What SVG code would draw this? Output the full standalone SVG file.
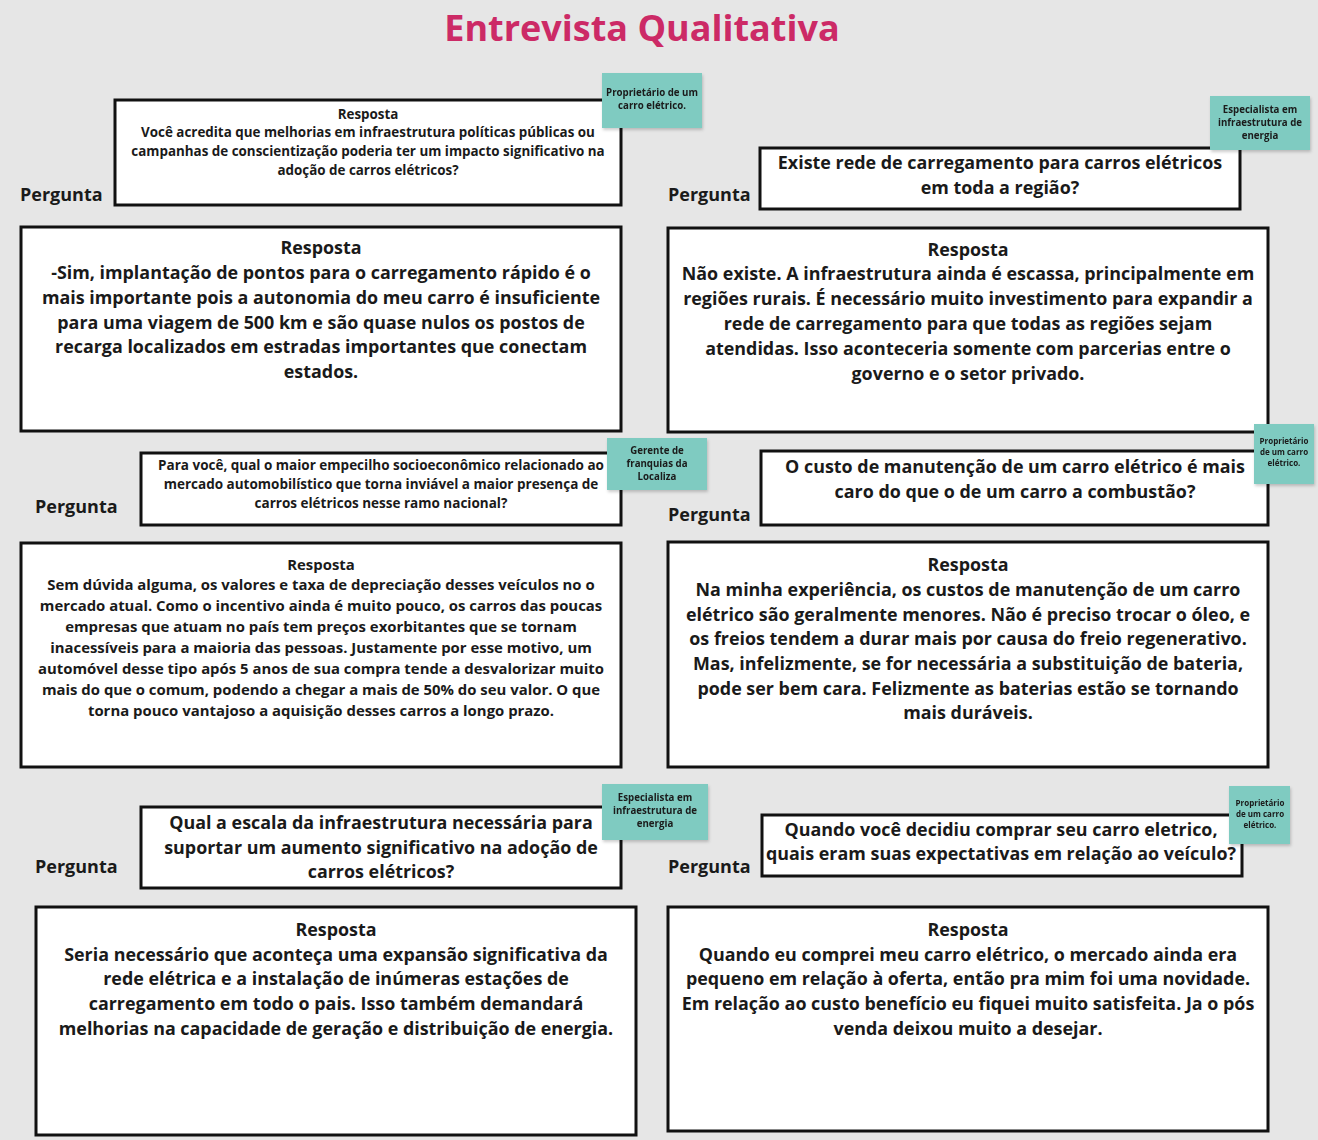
<svg xmlns="http://www.w3.org/2000/svg" width="1318" height="1140" viewBox="0 0 1318 1140">
<defs>
<style>
text{font-family:"Open Sans","Noto Sans","Liberation Sans",sans-serif;font-weight:700;fill:#1a1a1a}
.box{fill:#fff;stroke:#111;stroke-width:3}
.sticky{fill:#7fcbc1}
.lbl{font-size:18px}
.t18{font-size:17.9px;text-anchor:middle}
.t13{font-size:13.4px;text-anchor:middle}
.t13b{font-size:13.5px;text-anchor:middle}
.t14{font-size:14.9px;text-anchor:middle}
.s9{font-size:9.7px;text-anchor:middle}
.s7{font-size:8px;text-anchor:middle}
.title{font-size:36px;fill:#cc2a66;text-anchor:middle}
</style>
<filter id="sh" x="-10%" y="-10%" width="130%" height="130%"><feDropShadow dx="1" dy="2" stdDeviation="1.5" flood-color="#000" flood-opacity="0.2"/></filter>
</defs>
<rect width="1318" height="1140" fill="#e6e6e6"/>
<text class="title" x="642" y="41">Entrevista Qualitativa</text>
<g id="connectors"></g>

<g id="q1">
<text class="lbl" x="20" y="201">Pergunta</text>
<rect class="box" x="115" y="100" width="506" height="105"/>
<text class="t13" x="368" y="119">Resposta</text>
<text class="t13" x="368" y="137">Você acredita que melhorias em infraestrutura políticas públicas ou</text>
<text class="t13" x="368" y="156">campanhas de conscientização poderia ter um impacto significativo na</text>
<text class="t13" x="368" y="175">adoção de carros elétricos?</text>
</g>
<g id="n1" filter="url(#sh)">
<rect class="sticky" x="602" y="73" width="100" height="55"/>
<text class="s9" x="652" y="96">Proprietário de um</text>
<text class="s9" x="652" y="109">carro elétrico.</text>
</g>
<g id="a1">
<rect class="box" x="21" y="227" width="600" height="204"/>
<text class="t18" x="321" y="254">Resposta</text>
<text class="t18" x="321" y="279">-Sim, implantação de pontos para o carregamento rápido é o</text>
<text class="t18" x="321" y="304">mais importante pois a autonomia do meu carro é insuficiente</text>
<text class="t18" x="321" y="329">para uma viagem de 500 km e são quase nulos os postos de</text>
<text class="t18" x="321" y="353">recarga localizados em estradas importantes que conectam</text>
<text class="t18" x="321" y="378">estados.</text>
</g>

<g id="q2">
<text class="lbl" x="668" y="201">Pergunta</text>
<rect class="box" x="760" y="148" width="480" height="61"/>
<text class="t18" x="1000" y="169">Existe rede de carregamento para carros elétricos</text>
<text class="t18" x="1000" y="194">em toda a região?</text>
</g>
<g id="n2" filter="url(#sh)">
<rect class="sticky" x="1210" y="96" width="100" height="54"/>
<text class="s9" x="1260" y="113">Especialista em</text>
<text class="s9" x="1260" y="126">infraestrutura de</text>
<text class="s9" x="1260" y="139">energia</text>
</g>
<g id="a2">
<rect class="box" x="668" y="228" width="600" height="204"/>
<text class="t18" x="968" y="256">Resposta</text>
<text class="t18" x="968" y="280">Não existe. A infraestrutura ainda é escassa, principalmente em</text>
<text class="t18" x="968" y="305">regiões rurais. É necessário muito investimento para expandir a</text>
<text class="t18" x="968" y="330">rede de carregamento para que todas as regiões sejam</text>
<text class="t18" x="968" y="355">atendidas. Isso aconteceria somente com parcerias entre o</text>
<text class="t18" x="968" y="380">governo e o setor privado.</text>
</g>

<g id="q3">
<text class="lbl" x="35" y="513">Pergunta</text>
<rect class="box" x="141" y="453" width="480" height="72"/>
<text class="t13b" x="381" y="470">Para você, qual o maior empecilho socioeconômico relacionado ao</text>
<text class="t13b" x="381" y="489">mercado automobilístico que torna inviável a maior presença de</text>
<text class="t13b" x="381" y="508">carros elétricos nesse ramo nacional?</text>
</g>
<g id="n3" filter="url(#sh)">
<rect class="sticky" x="607" y="438" width="100" height="52"/>
<text class="s9" x="657" y="454">Gerente de</text>
<text class="s9" x="657" y="467">franquias da</text>
<text class="s9" x="657" y="480">Localiza</text>
</g>
<g id="a3">
<rect class="box" x="21" y="543" width="600" height="224"/>
<text class="t14" x="321" y="570">Resposta</text>
<text class="t14" x="321" y="590">Sem dúvida alguma, os valores e taxa de depreciação desses veículos no o</text>
<text class="t14" x="321" y="611">mercado atual. Como o incentivo ainda é muito pouco, os carros das poucas</text>
<text class="t14" x="321" y="632">empresas que atuam no país tem preços exorbitantes que se tornam</text>
<text class="t14" x="321" y="653">inacessíveis para a maioria das pessoas. Justamente por esse motivo, um</text>
<text class="t14" x="321" y="674">automóvel desse tipo após 5 anos de sua compra tende a desvalorizar muito</text>
<text class="t14" x="321" y="695">mais do que o comum, podendo a chegar a mais de 50% do seu valor. O que</text>
<text class="t14" x="321" y="716">torna pouco vantajoso a aquisição desses carros a longo prazo.</text>
</g>

<g id="q4">
<text class="lbl" x="668" y="521">Pergunta</text>
<rect class="box" x="761" y="451" width="507" height="74"/>
<text class="t18" x="1015" y="473">O custo de manutenção de um carro elétrico é mais</text>
<text class="t18" x="1015" y="498">caro do que o de um carro a combustão?</text>
</g>
<g id="n4" filter="url(#sh)">
<rect class="sticky" x="1254" y="424" width="60" height="60"/>
<text class="s7" x="1284" y="444">Proprietário</text>
<text class="s7" x="1284" y="455">de um carro</text>
<text class="s7" x="1284" y="466">elétrico.</text>
</g>
<g id="a4">
<rect class="box" x="668" y="542" width="600" height="225"/>
<text class="t18" x="968" y="571">Resposta</text>
<text class="t18" x="968" y="596">Na minha experiência, os custos de manutenção de um carro</text>
<text class="t18" x="968" y="621">elétrico são geralmente menores. Não é preciso trocar o óleo, e</text>
<text class="t18" x="968" y="645">os freios tendem a durar mais por causa do freio regenerativo.</text>
<text class="t18" x="968" y="670">Mas, infelizmente, se for necessária a substituição de bateria,</text>
<text class="t18" x="968" y="695">pode ser bem cara. Felizmente as baterias estão se tornando</text>
<text class="t18" x="968" y="719">mais duráveis.</text>
</g>

<g id="q5">
<text class="lbl" x="35" y="873">Pergunta</text>
<rect class="box" x="141" y="807" width="480" height="81"/>
<text class="t18" x="381" y="829">Qual a escala da infraestrutura necessária para</text>
<text class="t18" x="381" y="854">suportar um aumento significativo na adoção de</text>
<text class="t18" x="381" y="878">carros elétricos?</text>
</g>
<g id="n5" filter="url(#sh)">
<rect class="sticky" x="602" y="784" width="106" height="56"/>
<text class="s9" x="655" y="801">Especialista em</text>
<text class="s9" x="655" y="814">infraestrutura de</text>
<text class="s9" x="655" y="827">energia</text>
</g>
<g id="a5">
<rect class="box" x="36" y="907" width="600" height="228"/>
<text class="t18" x="336" y="936">Resposta</text>
<text class="t18" x="336" y="961">Seria necessário que aconteça uma expansão significativa da</text>
<text class="t18" x="336" y="985">rede elétrica e a instalação de inúmeras estações de</text>
<text class="t18" x="336" y="1010">carregamento em todo o pais. Isso também demandará</text>
<text class="t18" x="336" y="1035">melhorias na capacidade de geração e distribuição de energia.</text>
</g>

<g id="q6">
<text class="lbl" x="668" y="873">Pergunta</text>
<rect class="box" x="762" y="815" width="480" height="61"/>
<text class="t18" x="1001" y="836">Quando você decidiu comprar seu carro eletrico,</text>
<text class="t18" x="1001" y="860">quais eram suas expectativas em relação ao veículo?</text>
</g>
<g id="n6" filter="url(#sh)">
<rect class="sticky" x="1229" y="786" width="61" height="58"/>
<text class="s7" x="1260" y="806">Proprietário</text>
<text class="s7" x="1260" y="817">de um carro</text>
<text class="s7" x="1260" y="828">elétrico.</text>
</g>
<g id="a6">
<rect class="box" x="668" y="907" width="600" height="224"/>
<text class="t18" x="968" y="936">Resposta</text>
<text class="t18" x="968" y="961">Quando eu comprei meu carro elétrico, o mercado ainda era</text>
<text class="t18" x="968" y="985">pequeno em relação à oferta, então pra mim foi uma novidade.</text>
<text class="t18" x="968" y="1010">Em relação ao custo benefício eu fiquei muito satisfeita. Ja o pós</text>
<text class="t18" x="968" y="1035">venda deixou muito a desejar.</text>
</g>
</svg>
